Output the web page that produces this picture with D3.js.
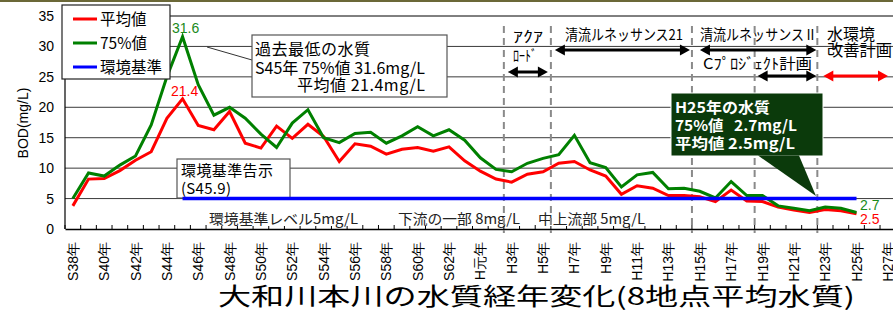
<!DOCTYPE html>
<html><head><meta charset="utf-8">
<script src="https://cdn.jsdelivr.net/npm/d3@7"></script>
<style>
body{margin:0;background:#fff}
svg{display:block;font-family:"Liberation Sans","Noto Sans CJK JP",sans-serif}
.jp{font-family:"Noto Sans CJK JP",sans-serif;white-space:pre}
</style></head><body>
<svg id="chart" width="893" height="311"></svg>
<script>
const categories = ["S38年","S39年","S40年","S41年","S42年","S43年","S44年","S45年","S46年","S47年",
  "S48年","S49年","S50年","S51年","S52年","S53年","S54年","S55年","S56年","S57年",
  "S58年","S59年","S60年","S61年","S62年","S63年","H元年","H2年","H3年","H4年",
  "H5年","H6年","H7年","H8年","H9年","H10年","H11年","H12年","H13年","H14年",
  "H15年","H16年","H17年","H18年","H19年","H20年","H21年","H22年","H23年","H24年",
  "H25年","H26年","H27年"];
const tickLabels = ["S38年","S40年","S42年","S44年","S46年","S48年","S50年","S52年","S54年",
  "S56年","S58年","S60年","S62年","H元年","H3年","H5年","H7年","H9年","H11年","H13年",
  "H15年","H17年","H19年","H21年","H23年","H25年","H27年"];
const yTicks = [0,5,10,15,20,25,30,35];
const seriesNames = ["平均値","75%値","環境基準"];
const seriesColors = ["#ff0000","#008000","#0000ff"];
// S38 .. H25
const avgValues = [3.8,8.2,8.3,9.6,11.3,12.7,18.2,21.4,17.0,16.3,
  19.3,14.1,13.3,16.9,14.9,17.2,15.2,11.1,14.0,13.6,
  12.3,13.1,13.4,12.8,13.5,11.2,9.5,8.2,7.7,9.0,
  9.4,10.8,11.1,9.7,8.7,5.7,7.1,6.7,5.5,5.5,
  5.3,4.5,6.4,4.6,4.5,3.6,3.1,2.7,3.2,3.0,2.5];
const p75Values = [5.0,9.2,8.7,10.5,12.0,17.1,25.0,31.6,23.7,18.7,
  20.0,18.2,15.6,13.4,17.4,19.6,15.0,14.2,15.7,15.9,
  14.1,15.3,16.8,15.3,16.3,14.6,11.7,9.8,9.4,10.8,
  11.6,12.2,15.4,10.9,10.1,6.9,8.9,9.3,6.6,6.7,
  6.2,5.1,7.8,5.5,5.5,3.8,3.4,3.0,3.6,3.4,2.7];
const stdValues = [null,null,null,null,null,null,null,5,5,5,
  5,5,5,5,5,5,5,5,5,5,
  5,5,5,5,5,5,5,5,5,5,
  5,5,5,5,5,5,5,5,5,5,
  5,5,5,5,5,5,5,5,5,5,5];
const phaseBounds = ["H3年","H6年","H15年","H19年","H23年"];

const svg = d3.select("#chart");
const plotL = 65, plotT = 16, plotB = 229, plotR = 895.7;

const x = d3.scaleBand().domain(categories).range([plotL, plotR]).padding(0);
const y = d3.scaleLinear().domain([0, 35]).range([plotB, plotT]);
const cx = c => x(c) + x.bandwidth() / 2;

// frame line at top of picture
svg.append("line").attr("x1", 0).attr("x2", 893).attr("y1", 1).attr("y2", 1)
  .attr("stroke", "#6b6838").attr("stroke-width", 2);

// grid
svg.append("g").selectAll("line").data(yTicks.filter(d => d > 0)).join("line")
  .attr("x1", plotL).attr("x2", 893).attr("y1", d => y(d)).attr("y2", d => y(d))
  .attr("stroke", d => d == 35 ? "#000" : "#3a3a3a").attr("stroke-width", 1);

// y axis
const gy = svg.append("g").attr("transform", `translate(${plotL},0)`)
  .call(d3.axisLeft(y).tickValues(yTicks).tickSize(0).tickPadding(11));
gy.select(".domain").remove();
gy.selectAll("text").style("font-size", "14px").attr("fill", "#000")
  .style("font-family", "Liberation Sans");
svg.append("line").attr("x1", plotL).attr("x2", plotL).attr("y1", plotT).attr("y2", plotB)
  .attr("stroke", "#000").attr("stroke-width", 1.2);

svg.append("text").attr("transform", "translate(28,123) rotate(-90)")
  .attr("text-anchor", "middle").style("font-size", "14px").text("BOD(mg/L)");

// x axis with rotated labels
const gx = svg.append("g").attr("transform", `translate(0,${plotB})`)
  .call(d3.axisBottom(x).tickValues(tickLabels).tickSize(0).tickSizeOuter(0));
gx.select(".domain").attr("stroke", "#000").attr("stroke-width", 1.5);
gx.selectAll("text").attr("transform", "rotate(-90)").attr("text-anchor", "end")
  .attr("x", -13).attr("y", 0).attr("dy", "0.36em").style("font-size", "14px")
  .attr("fill", "#000");

// small inward ticks at category boundaries
svg.append("g").selectAll("line").data(categories).join("line")
  .attr("x1", d => x(d)).attr("x2", d => x(d)).attr("y1", plotB).attr("y2", plotB - 4)
  .attr("stroke", "#000");

// bottom standard labels with white backing
function bgText(tx, ty, str, w) {
  const g = svg.append("g");
  const r = g.append("rect").attr("fill", "#fff");
  const t = g.append("text").attr("class", "jp").attr("x", tx).attr("y", ty)
    .style("font-size", "14px").attr("fill", "#222").text(str);
  if (w) t.attr("textLength", w).attr("lengthAdjust", "spacingAndGlyphs");
  const b = t.node().getBBox();
  r.attr("x", b.x - 1).attr("y", b.y).attr("width", b.width + 2).attr("height", b.height - 2);
}
bgText(209, 224, "環境基準レベル5mg/L", 149);
bgText(398, 224, "下流の一部 8mg/L", 122);
bgText(538, 224, "中上流部 5mg/L", 107);

// phase dashed lines
svg.append("g").selectAll("line").data(phaseBounds).join("line")
  .attr("x1", d => x(d)).attr("x2", d => x(d)).attr("y1", 26).attr("y2", 233)
  .attr("stroke", "#8a8a8a").attr("stroke-width", 2).attr("stroke-dasharray", "7,5");

// callout: 環境基準告示
svg.append("rect").attr("x", 177).attr("y", 159).attr("width", 113).attr("height", 39)
  .attr("fill", "#fff").attr("stroke", "#555").attr("stroke-width", 1.2);
svg.append("text").attr("class", "jp").attr("x", 181).attr("y", 176).style("font-size", "15px")
  .attr("textLength", 92).text("環境基準告示");
svg.append("text").attr("class", "jp").attr("x", 181).attr("y", 194).style("font-size", "15px")
  .attr("textLength", 50).text("(S45.9)");

// series lines
const line = d3.line().defined(d => d != null)
  .x((d, i) => cx(categories[i])).y(d => y(d));
[avgValues, p75Values, stdValues].forEach((vals, k) => {
  svg.append("path").datum(vals).attr("d", line).attr("fill", "none")
    .attr("stroke", seriesColors[k]).attr("stroke-width", k == 2 ? 3.5 : 3)
    .attr("stroke-linejoin", "miter");
});

// value labels
const iMax = avgValues.indexOf(d3.max(avgValues));
const iLast = avgValues.length - 1;
svg.append("text").attr("x", cx(categories[iMax]) + 3).attr("y", 33).attr("text-anchor", "middle")
  .style("font-size", "14px").attr("fill", "#1a8a1a").text(p75Values[iMax]);
svg.append("text").attr("x", cx(categories[iMax]) + 2).attr("y", 96).attr("text-anchor", "middle")
  .style("font-size", "14px").attr("fill", "#ff0000").text(avgValues[iMax]);
svg.append("text").attr("x", 860).attr("y", 210).style("font-size", "14px")
  .attr("fill", "#1a8a1a").text(p75Values[iLast]);
svg.append("text").attr("x", 860).attr("y", 224).style("font-size", "14px")
  .attr("fill", "#ff0000").text(avgValues[iLast]);

// legend
svg.append("rect").attr("x", 62).attr("y", 5).attr("width", 108).attr("height", 74)
  .attr("fill", "#fff").attr("stroke", "#222").attr("stroke-width", 1.2);
seriesNames.forEach((n, k) => {
  const ly = 19 + k * 24;
  svg.append("line").attr("x1", 73).attr("x2", 97).attr("y1", ly).attr("y2", ly)
    .attr("stroke", seriesColors[k]).attr("stroke-width", 3);
  svg.append("text").attr("class", "jp").attr("x", 100).attr("y", ly + 6)
    .style("font-size", "15.5px").text(n);
});

// callout: 過去最低の水質
svg.append("line").attr("x1", 207).attr("y1", 47).attr("x2", 252).attr("y2", 60)
  .attr("stroke", "#333").attr("stroke-width", 1);
svg.append("rect").attr("x", 252).attr("y", 35).attr("width", 195).attr("height", 62)
  .attr("fill", "#fff").attr("stroke", "#555").attr("stroke-width", 1.2);
svg.append("text").attr("class", "jp").attr("x", 255).attr("y", 55).style("font-size", "16px")
  .attr("textLength", 115).text("過去最低の水質");
svg.append("text").attr("class", "jp").attr("x", 255).attr("y", 74).style("font-size", "16px")
  .attr("textLength", 170).text(`S45年 75%値 ${p75Values[iMax]}mg/L`);
svg.append("text").attr("class", "jp").attr("x", 297).attr("y", 91).style("font-size", "16px")
  .attr("textLength", 128).text(`平均値 ${avgValues[iMax]}mg/L`);

// arrows
function arrow(x1, x2, ay, color) {
  svg.append("line").attr("x1", x1 + 6).attr("x2", x2 - 6).attr("y1", ay).attr("y2", ay)
    .attr("stroke", color).attr("stroke-width", 3);
  svg.append("path").attr("d", `M${x1},${ay}L${x1 + 10},${ay - 5.5}L${x1 + 10},${ay + 5.5}Z`).attr("fill", color);
  svg.append("path").attr("d", `M${x2},${ay}L${x2 - 10},${ay - 5.5}L${x2 - 10},${ay + 5.5}Z`).attr("fill", color);
}
arrow(x("H3年") + 4, x("H6年") - 3, 72, "#000");
arrow(x("H6年") + 4, x("H15年") - 2, 50, "#000");
arrow(x("H15年") + 8, x("H23年") - 1, 50, "#000");
arrow(x("H19年") + 3, x("H23年") - 1, 76, "#000");
arrow(x("H23年") + 6, x("H27年") + 8, 76, "#ff0000");

function label(tx, ty, str, fs, w) {
  const t = svg.append("text").attr("class", "jp").attr("x", tx).attr("y", ty)
    .style("font-size", fs + "px").text(str);
  if (w) t.attr("textLength", w).attr("lengthAdjust", "spacingAndGlyphs");
}
label(513, 42, "ｱｸｱ", 15, 30);
label(513, 61, "ﾛｰﾄﾞ", 15, 24);
label(565, 40, "清流ルネッサンス21", 15, 118);
label(700, 40, "清流ルネッサンスⅡ", 15, 117);
label(703, 69, "Cﾌﾟﾛｼﾞｪｸﾄ計画", 15, 109);
label(827, 40, "水環境", 16, 48);
label(827, 56, "改善計画", 16, 65);

// callout: H25年の水質
svg.append("rect").attr("x", 671).attr("y", 93).attr("width", 152).attr("height", 63)
  .attr("fill", "#0b3a0b").attr("stroke", "#fff").attr("stroke-width", 1);
svg.append("path").attr("d", "M758,155.5L799,155.5L816,196Z").attr("fill", "#0b3a0b");
const wt = (ty, str, w) => svg.append("text").attr("class", "jp").attr("x", 675).attr("y", ty)
  .style("font-size", "15px").style("font-weight", "bold").attr("fill", "#fff")
  .attr("textLength", w).attr("lengthAdjust", "spacingAndGlyphs").text(str);
wt(113, "H25年の水質", 95);
wt(131, `75%値   ${p75Values[iLast]}mg/L`, 122);
wt(149, `平均値 ${avgValues[iLast]}mg/L`, 120);

// title
svg.append("text").attr("class", "jp").attr("x", 218).attr("y", 305).style("font-size", "24px")
  .attr("textLength", 637).attr("lengthAdjust", "spacingAndGlyphs")
  .text("大和川本川の水質経年変化(8地点平均水質)");
</script>
</body></html>
